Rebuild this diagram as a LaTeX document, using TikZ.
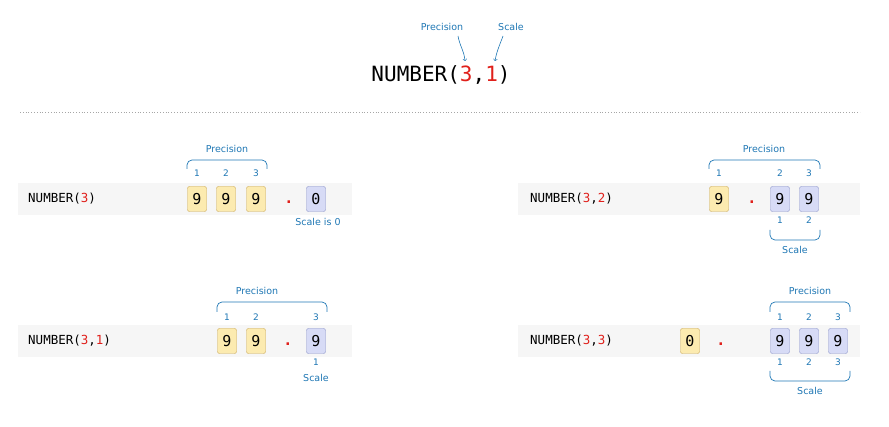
\documentclass[tikz,border=0pt]{standalone}
\usepackage{fontspec}
\setmainfont{DejaVu Sans}
\setmonofont{DejaVu Sans Mono}
\definecolor{lbl}{HTML}{1F77B4}
\definecolor{yf}{HTML}{FCEBB0}\definecolor{yd}{HTML}{C9A64E}
\definecolor{bf}{HTML}{D7DBF6}\definecolor{bd}{HTML}{8790C6}
\definecolor{rowbg}{HTML}{F6F6F6}
\definecolor{rd}{HTML}{E0201B}
\tikzset{
 yb/.style={draw=yd,fill=yf,rounded corners=2pt,minimum width=19pt,minimum height=25pt,inner sep=0pt,font=\ttfamily\fontsize{15}{15}\selectfont},
 bb/.style={yb,draw=bd,fill=bf},
 dt/.style={text=rd,font=\ttfamily\bfseries\fontsize{15}{15}\selectfont,inner sep=0pt},
 num/.style={text=lbl,font=\fontsize{9}{9}\selectfont,inner sep=0pt},
 lab/.style={text=lbl,font=\fontsize{9.5}{10}\selectfont,inner sep=0pt},
 brc/.style={draw=lbl,rounded corners=5pt,line width=0.7pt},
 rl/.style={font=\ttfamily\fontsize{12.5}{13}\selectfont,anchor=west,inner sep=0pt},
 bg/.style={fill=rowbg,draw=none},
}
\begin{document}
\begin{tikzpicture}[x=1pt,y=-1pt]
\useasboundingbox (0,0) rectangle (889,427);
% top
\node[font=\ttfamily\fontsize{21}{21}\selectfont,inner sep=0pt] (top) at (441,75) {NUMBER(\textcolor{rd}{3},\textcolor{rd}{1})};
\node[lab] (tp) at (442,27) {Precision};
\node[lab] (ts) at (511,27) {Scale};
\coordinate (s1) at (458,36); \coordinate (s2) at (503,36);
\coordinate (a1) at (465,61); \coordinate (a2) at (495,61);
\draw[lbl,->,line width=0.6pt] (s1) to[out=-80,in=95] (a1);
\draw[lbl,->,line width=0.6pt] (s2) to[out=-110,in=80] (a2);
\coordinate (d1) at (20,112); \coordinate (d2) at (860,112);
\draw[gray!70,dotted,line width=0.8pt] (d1) -- (d2);
% row backgrounds
\fill[bg] (18,183) rectangle (352,215);
\fill[bg] (518,183) rectangle (860,215);
\fill[bg] (18,325) rectangle (352,357);
\fill[bg] (518,325) rectangle (860,357);
% row 1 left
\node[rl] (r1) at (28,199) {NUMBER(\textcolor{rd}{3})};
\node[yb] (a) at (197,199) {9};\node[yb] (b) at (226,199) {9};\node[yb] (c) at (256,199) {9};
\node[dt] (d) at (289,202) {.};\node[bb] (e) at (316,199) {0};
\node[num] at (197,173) {1};\node[num] at (226,173) {2};\node[num] at (256,173) {3};
\draw[brc] (187,169)--(187,160)--(267,160)--(267,169);
\node[lab] at (227,149) {Precision};
\node[lab] at (318,222) {Scale is 0};
% row 1 right
\node[rl] (r2) at (530,199) {NUMBER(\textcolor{rd}{3},\textcolor{rd}{2})};
\node[yb] (f) at (719,199) {9};\node[dt] at (752,202) {.};
\node[bb] (g) at (780,199) {9};\node[bb] (h) at (809,199) {9};
\node[num] at (719,173) {1};\node[num] at (780,173) {2};\node[num] at (809,173) {3};
\draw[brc] (709,169)--(709,160)--(820,160)--(820,169);
\node[lab] at (764,149) {Precision};
\node[num] at (780,220) {1};\node[num] at (809,220) {2};
\draw[brc] (770,230)--(770,240)--(820,240)--(820,230);
\node[lab] at (795,250) {Scale};
% row 2 left
\node[rl] (r3) at (28,341) {NUMBER(\textcolor{rd}{3},\textcolor{rd}{1})};
\node[yb] (i) at (227,341) {9};\node[yb] (j) at (256,341) {9};
\node[dt] at (288,344) {.};\node[bb] (k) at (316,341) {9};
\node[num] at (227,317) {1};\node[num] at (256,317) {2};\node[num] at (316,317) {3};
\draw[brc] (217,312)--(217,302)--(327,302)--(327,312);
\node[lab] at (257,291) {Precision};
\node[num] at (316,362) {1};
\node[lab] at (316,378) {Scale};
% row 2 right
\node[rl] (r4) at (530,341) {NUMBER(\textcolor{rd}{3},\textcolor{rd}{3})};
\node[yb] (l) at (690,341) {0};\node[dt] at (721,344) {.};
\node[bb] (m) at (780,341) {9};\node[bb] (n) at (809,341) {9};\node[bb] (o) at (838,341) {9};
\node[num] at (780,317) {1};\node[num] at (809,317) {2};\node[num] at (838,317) {3};
\draw[brc] (770,312)--(770,302)--(850,302)--(850,312);
\node[lab] at (810,291) {Precision};
\node[num] at (780,362) {1};\node[num] at (809,362) {2};\node[num] at (838,362) {3};
\draw[brc] (770,371)--(770,381)--(850,381)--(850,371);
\node[lab] at (810,391) {Scale};
\end{tikzpicture}
\end{document}
